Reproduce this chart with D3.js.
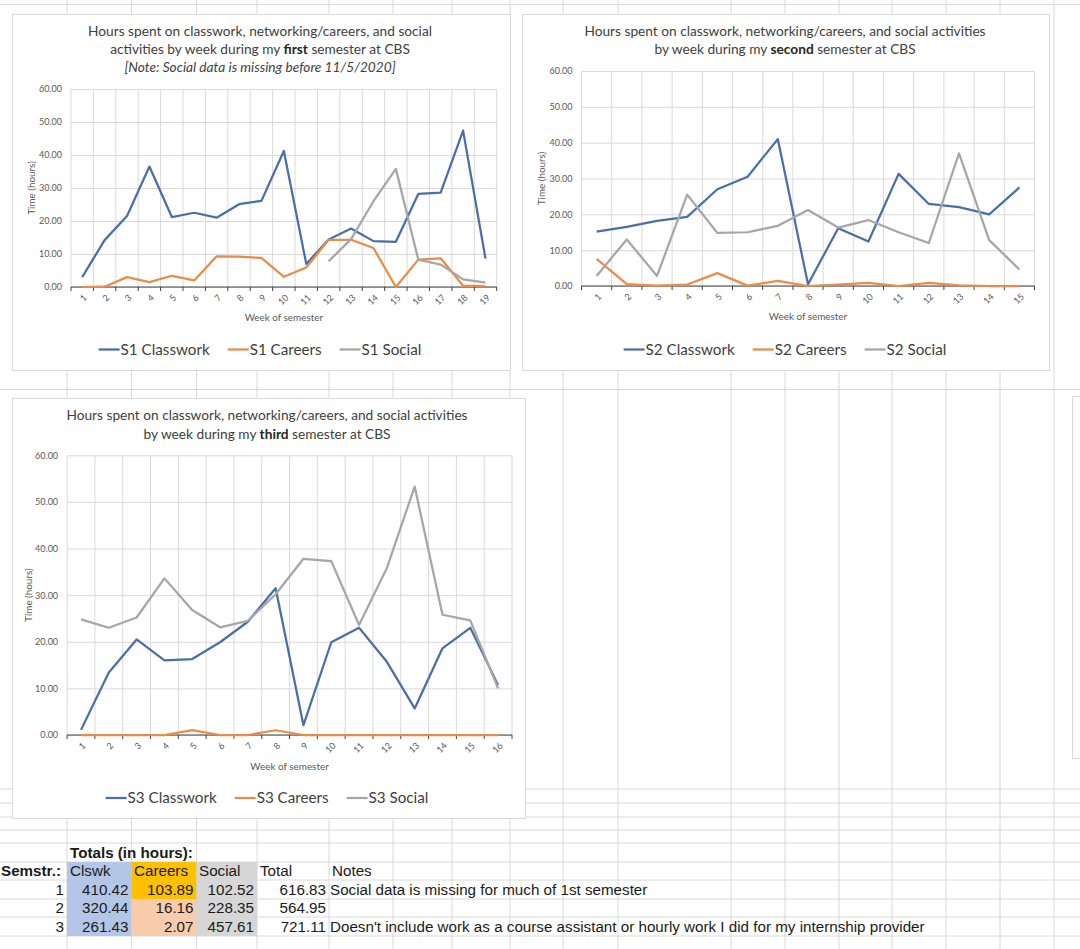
<!DOCTYPE html>
<html>
<head>
<meta charset="utf-8">
<script src="https://cdn.jsdelivr.net/npm/d3@7"></script>
<style>
body { margin: 0; background: #fff; }
svg { display: block; }
</style>
</head>
<body>
<svg id="sheet" width="1080" height="949"></svg>
<script>
// ---- data ----
const s1Weeks = [1, 2, 3, 4, 5, 6, 7, 8, 9, 10, 11, 12, 13, 14, 15, 16, 17, 18, 19];
const s1Classwork = [3.0, 14.2, 21.5, 36.5, 21.2, 22.5, 21.0, 25.1, 26.1, 41.2, 7.0, 14.4, 17.7, 13.9, 13.7, 28.2, 28.6, 47.4, 8.6];
const s1Careers = [0, 0.1, 3.0, 1.5, 3.4, 2.0, 9.3, 9.2, 8.8, 3.1, 5.9, 14.3, 14.3, 11.8, 0, 8.3, 8.7, 0.4, 0.3];
const s1Social = [null, null, null, null, null, null, null, null, null, null, null, 7.8, 14.5, 26.0, 35.8, 8.3, 6.8, 2.3, 1.3];

const s2Weeks = [1, 2, 3, 4, 5, 6, 7, 8, 9, 10, 11, 12, 13, 14, 15];
const s2Classwork = [15.2, 16.5, 18.2, 19.3, 27.0, 30.5, 41.0, 0.5, 16.1, 12.4, 31.3, 22.9, 22.0, 20.0, 27.5];
const s2Careers = [7.6, 0.5, 0.1, 0.4, 3.6, 0.1, 1.4, 0, 0.4, 0.9, 0, 0.9, 0.2, 0, 0];
const s2Social = [2.8, 13.0, 2.8, 25.5, 14.8, 15.0, 16.8, 21.2, 16.3, 18.4, 15.0, 12.0, 37.0, 12.8, 4.6];

const s3Weeks = [1, 2, 3, 4, 5, 6, 7, 8, 9, 10, 11, 12, 13, 14, 15, 16];
const s3Classwork = [1.1, 13.4, 20.5, 16.0, 16.3, 19.9, 24.3, 31.5, 2.1, 19.9, 23.0, 15.7, 5.7, 18.6, 23.0, 10.7];
const s3Careers = [0, 0, 0, 0, 1.05, 0, 0, 1.02, 0, 0, 0, 0, 0, 0, 0, 0];
const s3Social = [24.8, 23.0, 25.2, 33.6, 26.8, 23.1, 24.5, 30.2, 37.8, 37.3, 23.6, 35.8, 53.3, 25.8, 24.6, 10.0];

const yTicks = [0, 10, 20, 30, 40, 50, 60];

// totals table
const semesters = [1, 2, 3];
const totClswk = [410.42, 320.44, 261.43];
const totCareers = [103.89, 16.16, 2.07];
const totSocial = [102.52, 228.35, 457.61];
const totAll = [616.83, 564.95, 721.11];
const notes = ["Social data is missing for much of 1st semester", "",
  "Doesn't include work as a course assistant or hourly work I did for my internship provider"];

// ---- styles ----
const CHART_FONT = "Lato, 'Open Sans', sans-serif";
const SHEET_FONT = "'Liberation Sans', Arial, sans-serif";
const colors = { classwork: "#4a6fa8", careers: "#ea8c48", social: "#a6a6a6" };

const svg = d3.select("#sheet");

// spreadsheet grid
const colLines = [67, 131.5, 196.5, 257, 329, 393, 452, 510, 563, 618, 731, 785, 839, 892, 946, 1000, 1054];
const rowLines = [4.5, 389.5, 789, 803, 817, 830, 843, 862, 880, 899, 917, 936];

svg.append("g").selectAll("line").data(colLines).join("line")
    .attr("x1", d => d).attr("x2", d => d)
    .attr("y1", 0).attr("y2", 949)
    .attr("stroke", "#d8d8d8");
svg.append("g").selectAll("line").data(rowLines).join("line")
    .attr("x1", 0).attr("x2", 1080)
    .attr("y1", d => d).attr("y2", d => d)
    .attr("stroke", "#d8d8d8");

// coloured cells of the totals table
const fills = [
    [67, 862, 64.5, 74, "#b4c6e7"],
    [131.5, 862, 65, 37, "#ffc000"],
    [131.5, 899, 65, 37, "#f8cbad"],
    [196.5, 862, 60.5, 74, "#d6d6d6"]
];
svg.append("g").selectAll("rect").data(fills).join("rect")
    .attr("x", d => d[0]).attr("y", d => d[1])
    .attr("width", d => d[2]).attr("height", d => d[3])
    .attr("fill", d => d[4]);

// partially visible chart at the right edge
svg.append("rect")
    .attr("x", 1072.5).attr("y", 396.5).attr("width", 30).attr("height", 362)
    .attr("fill", "#fff").attr("stroke", "#d9d9d9");

function drawChart(c) {
    let g = svg.append("g");
    g.append("rect")
        .attr("x", c.box[0] + 0.5).attr("y", c.box[1] + 0.5)
        .attr("width", c.box[2]).attr("height", c.box[3])
        .attr("fill", "#fff").attr("stroke", "#d9d9d9");

    const [px0, px1, py0, py1] = c.plot;
    let x = d3.scaleBand().domain(c.weeks).range([px0, px1]);
    let y = d3.scaleLinear().domain([0, 60]).range([py1, py0]);

    // title
    let title = g.append("text")
        .attr("text-anchor", "middle")
        .attr("fill", "#404040")
        .style("font-family", CHART_FONT)
        .style("font-size", "13.7px");
    c.title.forEach((line, i) => {
        line.forEach((seg, j) => {
            let t = title.append("tspan").text(seg[0]);
            if (j === 0) t.attr("x", c.cx).attr("y", c.titleY[i]).attr("dy", "0.35em");
            if (seg[1] === "b") t.attr("font-weight", "bold").attr("fill", "#262626");
            if (seg[1] === "i") t.attr("font-style", "italic");
        });
    });

    // horizontal gridlines + y labels
    g.append("g")
        .attr("transform", `translate(${px0},0)`)
        .call(d3.axisLeft(y).tickValues(yTicks).tickSize(-(px1 - px0))
            .tickFormat(d3.format(".2f")).tickPadding(9))
        .call(a => a.select(".domain").remove())
        .call(a => a.selectAll("line").attr("stroke", "#d9d9d9"))
        .call(a => a.selectAll("text").attr("fill", "#595959")
            .style("font-family", CHART_FONT).style("font-size", "9px"));

    // vertical gridlines at category edges
    let edges = c.weeks.map(w => x(w)).concat([px1]);
    g.append("g").selectAll("line").data(edges).join("line")
        .attr("x1", d => d).attr("x2", d => d)
        .attr("y1", py0).attr("y2", py1)
        .attr("stroke", "#d9d9d9");

    // x axis
    let xa = g.append("g").attr("transform", `translate(0,${py1})`);
    xa.append("line").attr("x1", px0).attr("x2", px1).attr("stroke", "#404040");
    xa.selectAll(".tk").data(edges).join("line").attr("class", "tk")
        .attr("x1", d => d).attr("x2", d => d).attr("y1", 0).attr("y2", 4)
        .attr("stroke", "#404040");
    xa.selectAll("text").data(c.weeks).join("text")
        .attr("transform", d => `translate(${x(d) + x.bandwidth() / 2 + 3},9) rotate(-45)`)
        .attr("text-anchor", "end")
        .attr("dy", "0.35em")
        .attr("fill", "#595959")
        .style("font-family", CHART_FONT).style("font-size", "9px")
        .text(d => d);

    // axis titles
    g.append("text")
        .attr("x", (px0 + px1) / 2).attr("y", c.xTitleY).attr("dy", "0.35em")
        .attr("text-anchor", "middle").attr("fill", "#595959")
        .style("font-family", CHART_FONT).style("font-size", "9.9px")
        .text("Week of semester");
    g.append("text")
        .attr("transform", `translate(${c.yTitleX},${(py0 + py1) / 2}) rotate(-90)`)
        .attr("dy", "0.35em")
        .attr("text-anchor", "middle").attr("fill", "#595959")
        .style("font-family", CHART_FONT).style("font-size", "9.9px")
        .text("Time (hours)");

    // lines
    c.series.forEach(s => {
        let line = d3.line()
            .defined(d => d != null)
            .x((d, i) => x(c.weeks[i]) + x.bandwidth() / 2)
            .y(d => y(d));
        g.append("path")
            .datum(s.values)
            .attr("fill", "none")
            .attr("stroke", s.color)
            .attr("stroke-width", 2.25)
            .attr("stroke-linejoin", "round")
            .attr("d", line);
    });

    // legend, centred on the chart
    let lg = g.append("g");
    let items = c.series.map(s => {
        let it = lg.append("g");
        it.append("line").attr("x1", 0).attr("x2", 21)
            .attr("y1", c.legendY).attr("y2", c.legendY)
            .attr("stroke", s.color).attr("stroke-width", 2.25);
        let t = it.append("text").attr("x", 22).attr("y", c.legendY).attr("dy", "0.35em")
            .attr("fill", "#404040")
            .style("font-family", CHART_FONT).style("font-size", "15.2px")
            .text(s.name);
        return { it, w: 22 + t.node().getComputedTextLength() };
    });
    let gap = 18;
    let total = d3.sum(items, d => d.w) + gap * (items.length - 1);
    let pos = c.cx - total / 2;
    items.forEach(d => {
        d.it.attr("transform", `translate(${pos},0)`);
        pos += d.w + gap;
    });
}

drawChart({
    box: [12, 14, 498, 356],
    plot: [71, 496.7, 89, 287],
    cx: 260,
    titleY: [31, 49, 67],
    title: [
        [["Hours spent on classwork, networking/careers, and social"]],
        [["activities by week during my "], ["first", "b"], [" semester at CBS"]],
        [["[Note: Social data is missing before 11/5/2020]", "i"]]
    ],
    xTitleY: 317.5,
    yTitleX: 32,
    legendY: 349.5,
    weeks: s1Weeks,
    series: [
        { name: "S1 Classwork", values: s1Classwork, color: colors.classwork },
        { name: "S1 Careers", values: s1Careers, color: colors.careers },
        { name: "S1 Social", values: s1Social, color: colors.social }
    ]
});

drawChart({
    box: [522, 14, 527, 356],
    plot: [581.5, 1034.5, 71, 286],
    cx: 785,
    titleY: [31, 49],
    title: [
        [["Hours spent on classwork, networking/careers, and social activities"]],
        [["by week during my "], ["second", "b"], [" semester at CBS"]]
    ],
    xTitleY: 317,
    yTitleX: 542,
    legendY: 349.5,
    weeks: s2Weeks,
    series: [
        { name: "S2 Classwork", values: s2Classwork, color: colors.classwork },
        { name: "S2 Careers", values: s2Careers, color: colors.careers },
        { name: "S2 Social", values: s2Social, color: colors.social }
    ]
});

drawChart({
    box: [12, 398, 513, 420],
    plot: [67.1, 512, 455.3, 735],
    cx: 267,
    titleY: [415.5, 434],
    title: [
        [["Hours spent on classwork, networking/careers, and social activities"]],
        [["by week during my "], ["third", "b"], [" semester at CBS"]]
    ],
    xTitleY: 766.5,
    yTitleX: 29,
    legendY: 798,
    weeks: s3Weeks,
    series: [
        { name: "S3 Classwork", values: s3Classwork, color: colors.classwork },
        { name: "S3 Careers", values: s3Careers, color: colors.careers },
        { name: "S3 Social", values: s3Social, color: colors.social }
    ]
});

// ---- totals table ----
const tbl = svg.append("g")
    .style("font-family", SHEET_FONT)
    .style("font-size", "15.2px")
    .attr("fill", "#1a1a1a");
const rowMid = [852.5, 871, 889.5, 908, 926.5];

tbl.append("text").attr("x", 70).attr("y", rowMid[0]).attr("dy", "0.35em")
    .attr("font-weight", "bold").text("Totals (in hours):");
tbl.append("text").attr("x", 1).attr("y", rowMid[1]).attr("dy", "0.35em")
    .attr("font-weight", "bold").text("Semstr.:");

const headers = [["Clswk", 70], ["Careers", 134], ["Social", 199], ["Total", 260], ["Notes", 332]];
tbl.selectAll(".hdr").data(headers).join("text").attr("class", "hdr")
    .attr("x", d => d[1]).attr("y", rowMid[1]).attr("dy", "0.35em")
    .text(d => d[0]);

const rightEdges = [64, 128.5, 193.5, 254, 326];
const fmt = d3.format(".2f");
semesters.forEach((s, i) => {
    let cells = [String(s), fmt(totClswk[i]), fmt(totCareers[i]), fmt(totSocial[i]), fmt(totAll[i])];
    cells.forEach((v, j) => {
        tbl.append("text")
            .attr("x", rightEdges[j]).attr("y", rowMid[i + 2]).attr("dy", "0.35em")
            .attr("text-anchor", "end")
            .text(v);
    });
    if (notes[i]) {
        tbl.append("text")
            .attr("x", 330).attr("y", rowMid[i + 2]).attr("dy", "0.35em")
            .text(notes[i]);
    }
});
</script>
</body>
</html>
